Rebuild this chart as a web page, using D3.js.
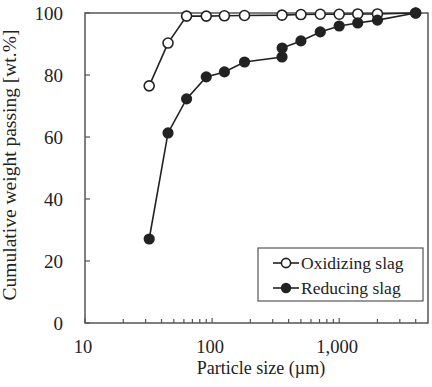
<!DOCTYPE html>
<html><head><meta charset="utf-8">
<script src="https://cdn.jsdelivr.net/npm/d3@7"></script>
<style>body{margin:0;background:#fff}svg{display:block}text{font-family:"Liberation Serif","Times New Roman",serif;fill:#222}</style>
</head><body>
<script>
const oxSizes = [32, 45, 63, 90, 125, 180, 355, 500, 710, 1000, 1400, 2000, 4000];
const oxPassing = [76.5, 90.3, 99.0, 99.0, 99.1, 99.2, 99.3, 99.5, 99.6, 99.6, 99.7, 99.7, 100];
const redSizes = [32, 45, 63, 90, 125, 180, 355, 356, 500, 710, 1000, 1400, 2000, 4000];
const redPassing = [27.1, 61.3, 72.3, 79.4, 81.0, 84.2, 85.8, 88.7, 91.0, 93.9, 95.8, 96.8, 97.7, 100];
const xTickLabels = ["10", "100", "1,000"];
const xTickValues = [10, 100, 1000];
const yTickValues = [0, 20, 40, 60, 80, 100];
const seriesNames = ["Oxidizing slag", "Reducing slag"];

const W = 432, H = 387;
const m = {l: 85, r: 4, t: 13, b: 64};
const svg = d3.select("body").append("svg").attr("width", W).attr("height", H);
const x = d3.scaleLog().domain([10, 5000]).range([m.l, W - m.r]);
const y = d3.scaleLinear().domain([0, 100]).range([H - m.b, m.t]);
const axisCol = "#555";

// frame
svg.append("rect").attr("x", m.l).attr("y", m.t).attr("width", x.range()[1]-m.l).attr("height", y(0)-m.t)
  .attr("fill", "none").attr("stroke", axisCol).attr("stroke-width", 1.5);

// x ticks (inward)
const minor = [];
for (let d = 10; d < 5000; d *= 10) for (let k = 2; k <= 9; k++) if (k*d < 5000) minor.push(k*d);
svg.append("g").selectAll("line").data(minor).join("line")
  .attr("x1", d => x(d)).attr("x2", d => x(d)).attr("y1", y(0)).attr("y2", y(0)-4)
  .attr("stroke", axisCol).attr("stroke-width", 1.2);
svg.append("g").selectAll("line").data(xTickValues).join("line")
  .attr("x1", d => x(d)).attr("x2", d => x(d)).attr("y1", y(0)).attr("y2", y(0)-5)
  .attr("stroke", axisCol).attr("stroke-width", 1.2);
svg.append("g").selectAll("text").data(xTickValues).join("text")
  .attr("x", d => x(d) - 2).attr("y", y(0) + 30).attr("text-anchor", "middle")
  .attr("font-size", 18.5).text((d, i) => xTickLabels[i]);

// y ticks
svg.append("g").selectAll("line").data(yTickValues).join("line")
  .attr("x1", m.l).attr("x2", m.l + 5).attr("y1", d => y(d)).attr("y2", d => y(d))
  .attr("stroke", axisCol).attr("stroke-width", 1.2);
svg.append("g").selectAll("text").data(yTickValues).join("text")
  .attr("x", 63).attr("y", d => y(d)).attr("dy", "0.35em").attr("text-anchor", "end")
  .attr("font-size", 19).text(d => d);

// titles
svg.append("text").attr("x", 261).attr("y", 374).attr("text-anchor", "middle").attr("font-size", 18)
  .text("Particle size (\u00b5m)");
svg.append("text").attr("transform", "translate(15.5,165) rotate(-90)").attr("text-anchor", "middle")
  .attr("font-size", 19.5).text("Cumulative weight passing [wt.%]");

const line = d3.line().x(d => x(d[0])).y(d => y(d[1]));
const ox = oxSizes.map((s, i) => [s, oxPassing[i]]);
const red = redSizes.map((s, i) => [s, redPassing[i]]);

svg.append("path").datum(ox).attr("d", line).attr("fill", "none").attr("stroke", "#222").attr("stroke-width", 1.6);
svg.append("path").datum(red).attr("d", line).attr("fill", "none").attr("stroke", "#222").attr("stroke-width", 1.6);
svg.append("g").selectAll("circle").data(ox).join("circle")
  .attr("cx", d => x(d[0])).attr("cy", d => y(d[1])).attr("r", 5)
  .attr("fill", "#fff").attr("stroke", "#222").attr("stroke-width", 1.6);
svg.append("g").selectAll("circle").data(red).join("circle")
  .attr("cx", d => x(d[0])).attr("cy", d => y(d[1])).attr("r", 5.6)
  .attr("fill", "#222");

// legend
const lg = svg.append("g");
lg.append("rect").attr("x", 258).attr("y", 248).attr("width", 165).attr("height", 53)
  .attr("fill", "#fff").attr("stroke", axisCol).attr("stroke-width", 1.2);
seriesNames.forEach((name, i) => {
  const cy = 263 + i * 25;
  lg.append("line").attr("x1", 273).attr("x2", 299).attr("y1", cy).attr("y2", cy).attr("stroke", "#222").attr("stroke-width", 1.6);
  lg.append("circle").attr("cx", 286).attr("cy", cy).attr("r", i === 0 ? 4.6 : 5.2)
    .attr("fill", i === 0 ? "#fff" : "#222").attr("stroke", "#222").attr("stroke-width", i === 0 ? 1.6 : 0);
  lg.append("text").attr("x", 301).attr("y", cy).attr("dy", "0.35em").attr("font-size", 17.5).text(name);
});
</script>
</body></html>
